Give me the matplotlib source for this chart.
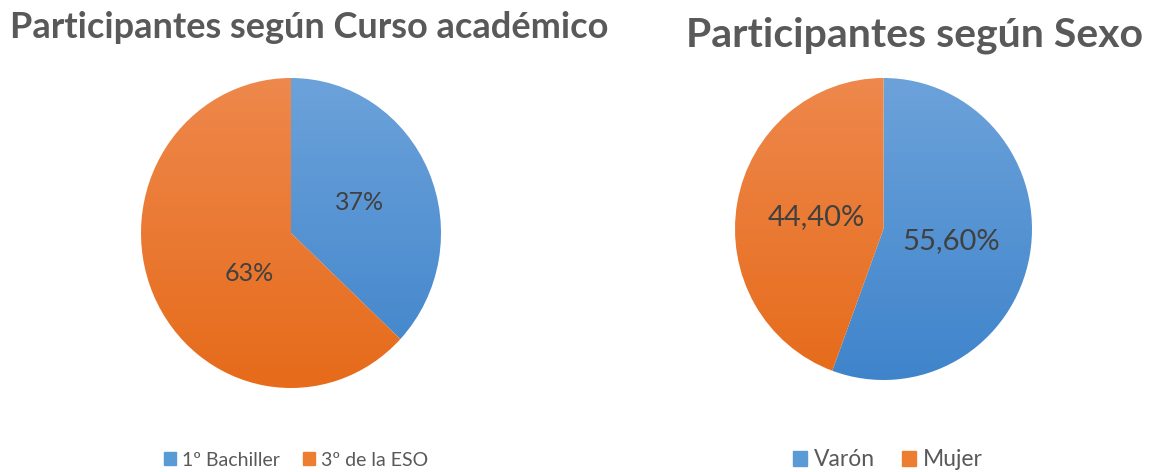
import numpy as np
import matplotlib.pyplot as plt
from matplotlib.colors import LinearSegmentedColormap
from matplotlib.patches import Patch

# ---------------- datos ----------------
curso_labels = ['1º Bachiller', '3º de la ESO']
curso_values = [37, 63]

sexo_labels = ['Varón', 'Mujer']
sexo_values = [55.6, 44.4]

# colores tipo Excel (arriba claro, abajo oscuro)
blue_top, blue_bottom = '#6ca2da', '#3f84cb'
orange_top, orange_bottom = '#ee884c', '#e66b1a'
blue_solid, orange_solid = '#5b9bd5', '#ed7d31'

plt.rcParams['font.family'] = ['Lato', 'DejaVu Sans']

W, H = 1154, 472
fig = plt.figure(figsize=(W / 100, H / 100), dpi=100)


def px_axes(left, top, width, height):
    return fig.add_axes([left / W, (H - top - height) / H, width / W, height / H])


def draw_pie(ax, values, fmt, pctdist, fontsize):
    wedges, texts, autotexts = ax.pie(values, startangle=90, counterclock=False,
                                      autopct=fmt, pctdistance=pctdist,
                                      wedgeprops=dict(linewidth=0))
    grads = [(blue_bottom, blue_top), (orange_bottom, orange_top)]
    g = np.linspace(0, 1, 256).reshape(-1, 1)
    for w, (c0, c1) in zip(wedges, grads):
        w.set_facecolor('none')
        cmap = LinearSegmentedColormap.from_list('g', [c0, c1])
        im = ax.imshow(g, extent=(-1, 1, -1, 1), origin='lower', cmap=cmap,
                       aspect='auto', zorder=1)
        im.set_clip_path(w)
    for t in autotexts:
        t.set_color('#404040')
        t.set_fontsize(fontsize)
        t.set_zorder(3)
    ax.set_xlim(-1, 1)
    ax.set_ylim(-1, 1)
    ax.set_aspect('auto')
    ax.axis('off')
    return autotexts


# ---------- curso académico ----------
ax1 = px_axes(141, 78, 300, 310)
at1 = draw_pie(ax1, curso_values, '%1.0f%%', 0.5, 18)
# Excel coloca la etiqueta grande algo más hacia el centro
x, y = at1[1].get_position()
at1[1].set_position((x * 0.6, y * 1.3))
fig.text(309 / W, 1 - 27 / H, 'Participantes según Curso académico', ha='center', va='center',
         fontsize=26, fontweight='bold', color='#595959')
fig.legend([Patch(color=blue_solid), Patch(color=orange_solid)], curso_labels,
           loc='center', bbox_to_anchor=(296 / W, 1 - 460 / H), ncol=2, frameon=False,
           fontsize=14, handlelength=0.6, handleheight=0.6, handletextpad=0.3,
           columnspacing=1.2, labelcolor='#595959')

# ---------- sexo ----------
ax2 = px_axes(735, 78, 297, 302)
draw_pie(ax2, sexo_values, lambda p: f'{p:.2f}%'.replace('.', ','), 0.46, 21)
fig.text(915 / W, 1 - 35 / H, 'Participantes según Sexo', ha='center', va='center',
         fontsize=29.5, fontweight='bold', color='#595959')
fig.legend([Patch(color=blue_solid), Patch(color=orange_solid)], sexo_labels,
           loc='center', bbox_to_anchor=(888 / W, 1 - 460 / H), ncol=2, frameon=False,
           fontsize=16.5, handlelength=0.6, handleheight=0.6, handletextpad=0.3,
           columnspacing=1.2, labelcolor='#595959')

fig.savefig('out.png', dpi=100)
